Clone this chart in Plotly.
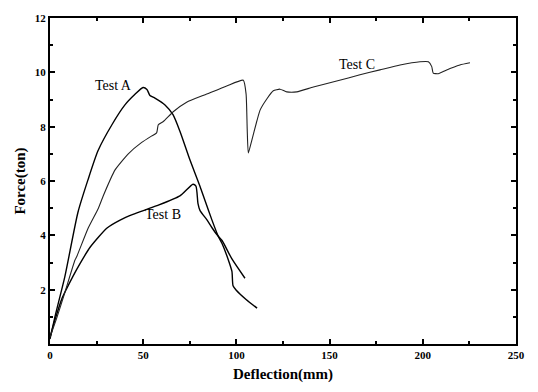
import plotly.graph_objects as go

# Test A
a_x = [0, 3.0, 8.0, 15.0, 20.4, 25.8, 33.3, 40.2, 45.6, 49.9, 52.0, 53.6, 56.3, 61.7, 66.0, 69.7,
       75.1, 80.5, 83.2, 86.9, 90.1, 92.3, 95.5, 97.6, 98.2, 99.8, 105.2, 111.1]
a_y = [0.18, 1.1, 2.49, 4.85, 6.05, 7.12, 8.08, 8.80, 9.19, 9.44, 9.37, 9.15, 9.05, 8.80, 8.44, 7.83,
       6.77, 5.80, 5.27, 4.56, 3.99, 3.70, 3.13, 2.67, 2.14, 1.99, 1.64, 1.32]

# Test B
b_x = [0, 2.7, 6.4, 12.3, 16.1, 21.5, 30.6, 37.6, 44.5, 57.4, 69.7, 76.7, 78.3, 79.4, 80.5,
       84.3, 87.0, 89.6, 92.3, 97.6, 104.6]
b_y = [0.25, 0.89, 1.67, 2.49, 2.96, 3.56, 4.27, 4.56, 4.77, 5.09, 5.45, 5.88, 5.81, 5.17, 4.91,
       4.56, 4.27, 4.02, 3.81, 3.13, 2.42]

# Test C
c_x = [0, 3.6, 8.0, 13.4, 14.3, 20.5, 25.9, 28.6, 34.9, 42.0, 49.2, 54.6, 57.2, 58.1, 60.8,
       66.1, 73.3, 84.1, 94.8, 103.7, 105.2, 105.8, 106.4, 108.2, 110.9, 112.7, 116.3, 119.8,
       123.4, 127.0, 132.4, 141.3, 153.8, 166.3, 177.0, 187.8, 198.5, 203.0, 204.8, 205.6,
       208.3, 212.8, 219.9, 225.3]
c_y = [0.25, 0.95, 1.90, 3.09, 3.21, 4.27, 4.99, 5.46, 6.41, 7.00, 7.42, 7.66, 7.77, 8.07, 8.19,
       8.55, 8.90, 9.20, 9.50, 9.71, 9.20, 7.90, 7.03, 7.48, 8.19, 8.61, 9.02, 9.32,
       9.38, 9.28, 9.28, 9.46, 9.68, 9.91, 10.09, 10.27, 10.39, 10.39, 10.21, 9.97,
       9.95, 10.09, 10.27, 10.35]

labels = ["Test A", "Test B", "Test C"]
label_x = [34.2, 60.6, 164.7]
label_y = [9.51, 4.77, 10.29]

x_ticks = [0, 50, 100, 150, 200, 250]
y_ticks = [2, 4, 6, 8, 10, 12]

fig = go.Figure()
fig.add_trace(go.Scatter(x=a_x, y=a_y, mode="lines",
                         line=dict(color="black", width=1.4, shape="spline", smoothing=0.6), name="Test A"))
fig.add_trace(go.Scatter(x=b_x, y=b_y, mode="lines",
                         line=dict(color="black", width=1.4, shape="spline", smoothing=0.6), name="Test B"))
fig.add_trace(go.Scatter(x=c_x, y=c_y, mode="lines",
                         line=dict(color="#222222", width=1.1, shape="spline", smoothing=0.5), name="Test C"))

for t, x, y in zip(labels, label_x, label_y):
    fig.add_annotation(x=x, y=y, text=t, showarrow=False,
                       font=dict(family="Liberation Serif", size=14, color="black"))

axis_common = dict(showline=True, linewidth=2, linecolor="black", mirror="ticks",
                   ticks="inside", ticklen=5, tickwidth=1.5, tickcolor="black",
                   showgrid=False, zeroline=False,
                   tickfont=dict(family="Liberation Serif", size=11, color="black"))

fig.update_xaxes(range=[0, 250], tickvals=x_ticks, ticktext=["<b>%d</b>" % v for v in x_ticks],
                 minor=dict(ticks="inside", ticklen=3, dtick=25, tick0=0, tickcolor="black"),
                 title=dict(text="<b>Deflection(mm)</b>", standoff=8,
                            font=dict(family="Liberation Serif", size=15, color="black")),
                 **axis_common)
fig.update_yaxes(range=[0, 12], tickvals=y_ticks, ticktext=["<b>%d</b>" % v for v in y_ticks],
                 minor=dict(ticks="inside", ticklen=3, dtick=1, tick0=0, tickcolor="black"),
                 title=dict(text="<b>Force(ton)</b>", standoff=6,
                            font=dict(family="Liberation Serif", size=15, color="black")),
                 **axis_common)

fig.update_layout(width=538, height=392, margin=dict(l=50, r=22, t=13, b=42),
                  plot_bgcolor="white", paper_bgcolor="white", showlegend=False)

fig.write_html("out.html")
